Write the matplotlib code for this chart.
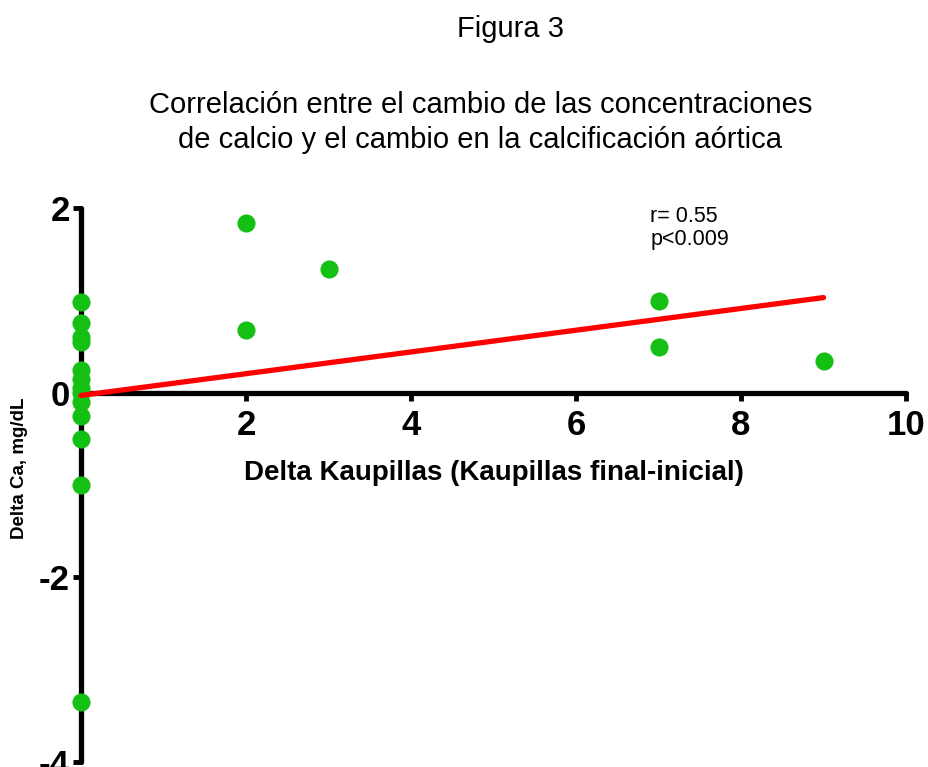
import matplotlib
matplotlib.use('Agg')
import matplotlib.pyplot as plt

plt.rcParams['font.family'] = ['Liberation Sans', 'DejaVu Sans']
plt.rcParams['axes.unicode_minus'] = False

# datos
x_cero = [0, 0, 0, 0, 0, 0, 0, 0, 0, 0, 0, 0, 0]
y_cero = [0.98, 0.75, 0.6, 0.55, 0.25, 0.15, 0.05, 0.0, -0.1, -0.25, -0.5, -1.0, -3.35]
x_resto = [2, 2, 3, 7, 7, 9]
y_resto = [1.84, 0.68, 1.34, 0.99, 0.49, 0.34]
recta_x = [0, 9]
recta_y = [-0.03, 1.03]
xticks = [2, 4, 6, 8, 10]
yticks = [-4, -2, 0, 2]

fig = plt.figure(figsize=(9.29, 7.67), dpi=100)
ax = fig.add_axes([0.0872, 0.0065, 0.8881, 0.7223])

verde = '#14c014'
ax.scatter(x_cero + x_resto, y_cero + y_resto, s=170, color=verde, zorder=3, clip_on=False, linewidths=0)
ax.plot(recta_x, recta_y, color='#ff0000', lw=3.8, solid_capstyle='round', zorder=4, clip_on=False)

ax.set_xlim(0, 10)
ax.set_ylim(-4, 2)
for s in ['top', 'right']:
    ax.spines[s].set_visible(False)
ax.spines['bottom'].set_position(('data', 0))
ax.spines['left'].set_position(('data', 0))
for s in ['bottom', 'left']:
    ax.spines[s].set_linewidth(3.8)
    ax.spines[s].set_capstyle('round')

ax.set_xticks(xticks)
ax.set_yticks(yticks)
ax.tick_params(axis='both', direction='out', length=6, width=3.5, labelsize=25)
ax.tick_params(axis='x', pad=6)
ax.tick_params(axis='y', pad=2)
for lab in ax.get_xticklabels() + ax.get_yticklabels():
    lab.set_fontweight('bold')

fig.text(0.55, 0.962, 'Figura 3', ha='center', va='center', fontsize=21)
fig.text(0.517, 0.840, 'Correlación entre el cambio de las concentraciones\nde calcio y el cambio en la calcificación aórtica',
         ha='center', va='center', fontsize=21, linespacing=1.3)
fig.text(0.532, 0.383, 'Delta Kaupillas (Kaupillas final-inicial)', ha='center', va='center',
         fontsize=20, fontweight='bold')
fig.text(0.021, 0.389, 'Delta Ca, mg/dL', ha='center', va='center', rotation=90,
         fontsize=13.5, fontweight='bold')
fig.text(0.700, 0.703, 'r= 0.55\np<0.009', ha='left', va='center', fontsize=15.5, linespacing=1.15)

fig.savefig('out.png', dpi=100)
